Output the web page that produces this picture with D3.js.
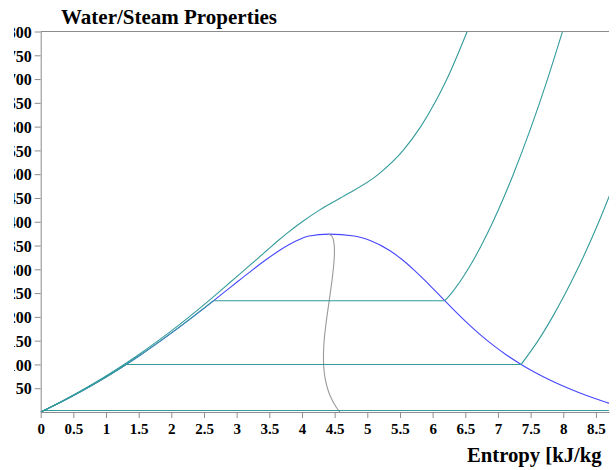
<!DOCTYPE html>
<html>
<head>
<meta charset="utf-8">
<script src="https://cdn.jsdelivr.net/npm/d3@7"></script>
<style>
  body { margin: 0; background: #fff; }
  text { font-family: "Liberation Serif", "Times New Roman", serif; font-weight: bold; }
</style>
</head>
<body>
<div id="chart-area"></div>
<script>
// DATA: every point is [temperature degC, entropy kJ/kgK]

// SATURATED LIQUID LINE
const satLiquid = [
    [0.01, 0], [10, 0.1511], [20, 0.2965], [30, 0.4368], [40, 0.5724], [50, 0.7038],
    [60, 0.8313], [70, 0.9551], [80, 1.0756], [90, 1.1929], [100, 1.3069], [120, 1.5279],
    [140, 1.7391], [160, 1.9418], [180, 2.1392], [200, 2.3305], [220, 2.5177], [240, 2.7020],
    [260, 2.8838], [280, 3.0683], [300, 3.2534], [320, 3.4480], [340, 3.6594], [360, 3.9147],
    [370, 4.1108], [373.95, 4.4070]
]

// SATURATED VAPOUR LINE
const satVapor = [
    [0.01, 9.1556], [10, 8.8999], [20, 8.6671], [30, 8.4533], [40, 8.2556], [50, 8.0763],
    [60, 7.9096], [70, 7.7553], [80, 7.6122], [90, 7.4791], [100, 7.3549], [120, 7.1296],
    [140, 6.9299], [160, 6.7502], [180, 6.5857], [200, 6.4323], [220, 6.2861], [240, 6.1437],
    [260, 6.0019], [280, 5.8571], [300, 5.7045], [320, 5.5362], [340, 5.3357], [360, 5.0526],
    [370, 4.8007]
]

// QUALITY x = 0.5
const qualityHalf = [
    [0.01, 4.5778], [10, 4.5255], [20, 4.4818], [30, 4.4451], [40, 4.4140], [50, 4.3901],
    [60, 4.3705], [70, 4.3552], [80, 4.3439], [90, 4.3360], [100, 4.3309], [120, 4.3288],
    [140, 4.3345], [160, 4.3460], [180, 4.3625], [200, 4.3814], [220, 4.4019], [240, 4.4229],
    [260, 4.4429], [280, 4.4627], [300, 4.4790], [320, 4.4921], [340, 4.4976], [360, 4.4837],
    [370, 4.4558], [373.95, 4.4070]
]

// ISOBARS
const isobarLow = [[3, 0.046], [3, 9.08]]

const isobarAtm = [
    [0.01, 0], [20, 0.2965], [40, 0.5724], [60, 0.8313], [80, 1.0756], [100, 1.3069],
    [100, 7.3549], [150, 7.6148], [200, 7.8356], [250, 8.0346], [300, 8.2172],
    [400, 8.5452], [500, 8.8362]
]

const isobar3MPa = [
    [0.01, 0], [20, 0.2955], [40, 0.5710], [60, 0.8297], [80, 1.0737], [100, 1.3048],
    [120, 1.5254], [140, 1.7364], [160, 1.9389], [180, 2.1360], [200, 2.3268], [220, 2.5133],
    [233.9, 2.6455], [233.9, 6.1856], [250, 6.2893], [300, 6.5412], [350, 6.7450],
    [400, 6.9235], [450, 7.0856], [500, 7.2359], [600, 7.5103], [700, 7.7590], [800, 7.9885]
]

const isobar50MPa = [
    [0.01, 0], [20, 0.287], [40, 0.556], [60, 0.809], [80, 1.049], [100, 1.276],
    [120, 1.493], [140, 1.699], [160, 1.898], [180, 2.089], [200, 2.273], [220, 2.451],
    [240, 2.625], [260, 2.794], [280, 2.962], [300, 3.130], [320, 3.298], [340, 3.465],
    [360, 3.632], [375, 3.764], [400, 4.003], [425, 4.273], [450, 4.588], [500, 5.173],
    [550, 5.549], [600, 5.818], [650, 6.034], [700, 6.219], [800, 6.529]
]

// TICKS
const xTicks = [0, 0.5, 1, 1.5, 2, 2.5, 3, 3.5, 4, 4.5, 5, 5.5, 6, 6.5, 7, 7.5, 8, 8.5]
const yTicks = [50, 100, 150, 200, 250, 300, 350, 400, 450, 500, 550, 600, 650, 700, 750, 800]

const title = 'Water/Steam Properties'
const xTitle = 'Entropy [kJ/kg'

// CREATE SVG CONTAINER
const width = 616
const height = 470
const plotLeft = 40.7, plotRight = 609, plotTop = 31.5, plotBottom = 412

const svg = d3.select('#chart-area')
              .append('svg')
              .attr('width', width)
              .attr('height', height)

const defs = svg.append('defs')
defs.append('clipPath').attr('id', 'page-clip')
    .append('rect')
    .attr('x', 14).attr('y', 0)
    .attr('width', width - 14).attr('height', height)
defs.append('clipPath').attr('id', 'plot-clip')
    .append('rect')
    .attr('x', plotLeft).attr('y', plotTop)
    .attr('width', plotRight - plotLeft).attr('height', plotBottom - plotTop)

const root = svg.append('g').attr('clip-path', 'url(#page-clip)')

// SCALES
const x = d3.scaleLinear().domain([0, 8.7]).range([plotLeft, plotRight])
const y = d3.scaleLinear().domain([0, 800]).range([plotBottom, plotTop])

// AXES
const axisColor = '#8c8c8c'

const xAxis = root.append('g')
                  .attr('transform', `translate(0,${plotBottom})`)
                  .call(d3.axisBottom(x).tickValues(xTicks).tickFormat(d3.format('')).tickSize(6).tickPadding(5).tickSizeOuter(0))
const yAxis = root.append('g')
                  .attr('transform', `translate(${plotLeft},0)`)
                  .call(d3.axisLeft(y).tickValues(yTicks).tickSize(6).tickPadding(3).tickSizeOuter(0))

;[xAxis, yAxis].forEach(a => {
    a.select('.domain').attr('stroke', axisColor)
    a.selectAll('.tick line').attr('stroke', axisColor)
    a.selectAll('.tick text')
     .attr('fill', '#000')
     .style('font-family', '"Liberation Serif", serif')
     .style('font-weight', 'bold')
})
xAxis.selectAll('.tick text').style('font-size', '15px')
yAxis.selectAll('.tick text').style('font-size', '16px').attr('dy', '0.36em')

// TOP FRAME LINE
root.append('line')
    .attr('x1', plotLeft).attr('x2', plotRight)
    .attr('y1', plotTop).attr('y2', plotTop)
    .attr('stroke', axisColor)

// CURVES
const plot = root.append('g').attr('clip-path', 'url(#plot-clip)')

const lineS = d3.line()
                .x(d => x(d[1]))
                .y(d => y(d[0]))
                .curve(d3.curveMonotoneX)

const lineT = d3.line()
                .x(d => x(d[1]))
                .y(d => y(d[0]))
                .curve(d3.curveMonotoneY)

// SPLIT AN ISOBAR AT ITS CONSTANT-TEMPERATURE PART SO THE CORNERS STAY SHARP
function pieces(pts) {
    let out = []
    let cur = [pts[0]]
    for (let i = 1; i < pts.length; i++) {
        if (pts[i][0] === pts[i - 1][0]) {
            if (cur.length > 1) out.push(cur)
            out.push([pts[i - 1], pts[i]])
            cur = [pts[i]]
        } else {
            cur.push(pts[i])
        }
    }
    if (cur.length > 1) out.push(cur)
    return out
}

const dome = satLiquid.concat(satVapor.slice().reverse())

plot.append('path')
    .attr('d', lineS(dome))
    .attr('fill', 'none')
    .attr('stroke', '#4646ff')
    .attr('stroke-width', 1.1)

plot.append('path')
    .attr('d', lineT(qualityHalf))
    .attr('fill', 'none')
    .attr('stroke', '#9a9a9a')
    .attr('stroke-width', 1.1)

const isobars = [isobarLow, isobarAtm, isobar3MPa, isobar50MPa]
plot.selectAll('path.isobar')
    .data(isobars)
    .enter()
    .append('path')
    .attr('class', 'isobar')
    .attr('d', d => pieces(d).map(p => lineS(p)).join(''))
    .attr('fill', 'none')
    .attr('stroke', '#339b9b')
    .attr('stroke-width', 1.1)

// TITLES
root.append('text')
    .attr('x', 61).attr('y', 24)
    .style('font-size', '21px')
    .text(title)

root.append('text')
    .attr('x', 467).attr('y', 462)
    .style('font-size', '20.7px')
    .text(xTitle)
</script>
</body>
</html>
